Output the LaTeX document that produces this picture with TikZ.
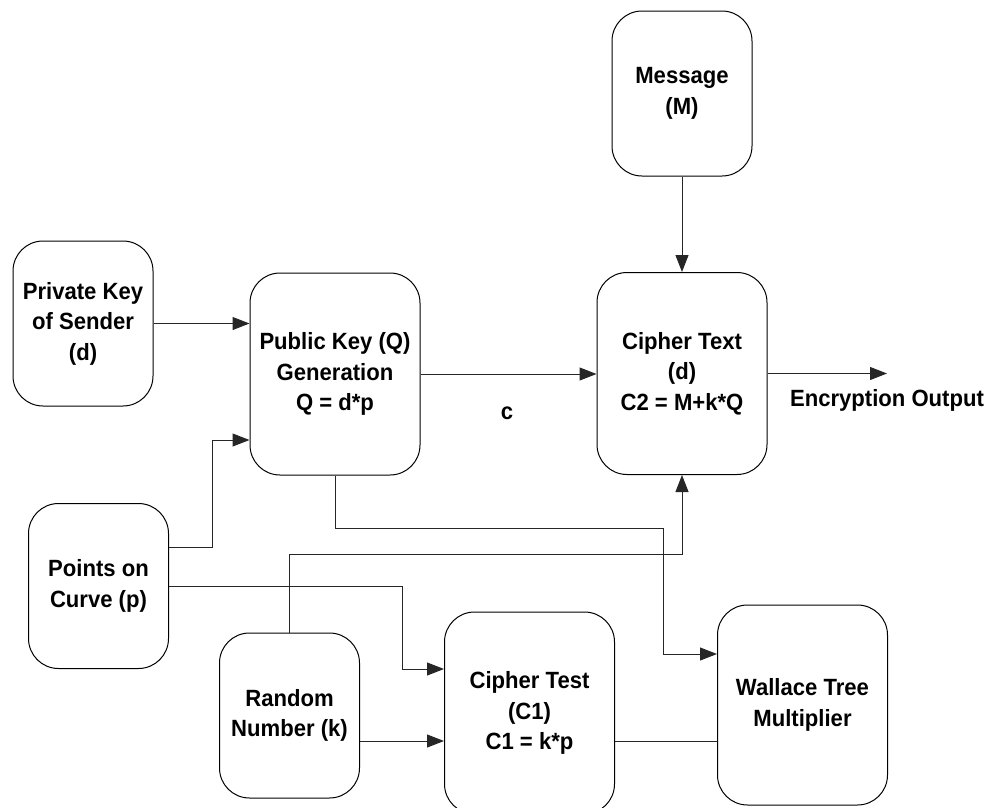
\documentclass[tikz,border=0pt]{standalone}
\usepackage{fontspec}
\setmainfont{Liberation Sans}[FakeStretch=0.94]
\usetikzlibrary{arrows.meta}
\begin{document}
\begin{tikzpicture}[x=1pt,y=-1pt,
  blk/.style={draw=black, line width=1pt, rounded corners=30pt, align=center,
    font=\fontsize{23.5}{30.5}\selectfont\bfseries, inner sep=0pt},
  small/.style={blk, minimum width=140pt, minimum height=165pt},
  big/.style={blk, minimum width=170pt, minimum height=202pt},
  wire/.style={draw=black!85, line width=1pt},
  arr/.style={wire, -{Triangle[length=17pt,width=13pt]}},
  lbl/.style={font=\fontsize{23.5}{30.5}\selectfont\bfseries, inner sep=0pt}]
\useasboundingbox (0,0) rectangle (989,807);

% blocks
\node[small] (msg)    at (682,93.5)   {Message\\(M)};
\node[small] (priv)   at (83,323.5)   {Private Key\\of Sender\\(d)};
\node[big]   (pub)    at (335,374)    {Public Key (Q)\\Generation\\Q = d*p};
\node[big]   (ctext)  at (682,373.5)  {Cipher Text\\(d)\\C2 = M+k*Q};
\node[small] (points) at (98.5,586)   {Points on\\Curve (p)};
\node[small] (rnd)    at (289.5,715.5){Random\\Number (k)};
\node[big]   (ctest)  at (529.5,713)  {Cipher Test\\(C1)\\C1 = k*p};
\node[big, minimum height=200pt] (wal) at (802.5,705) {Wallace Tree\\Multiplier};

% free labels
\node[lbl] (c)   at (507,413) {c};
\node[lbl] (out) at (887,400) {Encryption Output};

% connectors
\draw[arr] (msg.south) -- (ctext.north);
\draw[arr] (priv.east) -- (priv.east -| pub.west);
\draw[arr] ([yshift=39pt]points.east) -| (212,440) -- ([yshift=-66pt]pub.west);
\draw[arr] (pub.east) -- (pub.east -| ctext.west);
\draw[arr] (ctext.east) -- (ctext.east -| out.center);
\draw[arr] (pub.south) |- (663,528) |- ([yshift=51pt]wal.west);
\draw[arr] (rnd.north) |- (682,554) -- (ctext.south);
\draw[arr] (points.east) -| (402,669) -- ([yshift=44pt]ctest.west);
\draw[arr] ([yshift=-25.5pt]rnd.east) -- ([yshift=-25.5pt]rnd.east -| ctest.west);
\draw[wire] ([yshift=-28pt]ctest.east) -- ([yshift=-28pt]ctest.east -| wal.west);
\end{tikzpicture}
\end{document}
